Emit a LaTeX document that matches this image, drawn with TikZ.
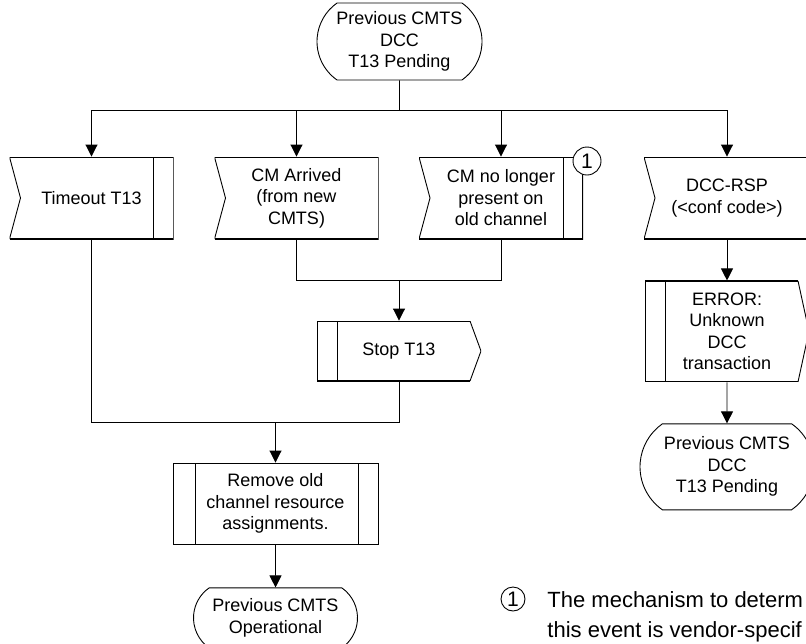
\documentclass[tikz,border=0pt]{standalone}
\usepackage{fontspec}
\setmainfont{Liberation Sans}
\usetikzlibrary{positioning, shapes.misc, arrows.meta, calc}

% process bars drawn inside a node's path picture
\newcommand{\sdlbarleft}{\draw ([xshift=20pt]path picture bounding box.north west) -- ([xshift=20pt]path picture bounding box.south west);}
\newcommand{\sdlbarright}{\draw ([xshift=-20pt]path picture bounding box.north east) -- ([xshift=-20pt]path picture bounding box.south east);}

\begin{document}
\begin{tikzpicture}[
    x=1pt, y=-1pt,
    line width=0.9pt,
    every node/.style={font=\fontsize{18}{21.5}\selectfont, line width=0.9pt},
    state/.style={rounded rectangle, rounded rectangle arc length=110, draw, fill=white, align=center, inner sep=0pt},
    inbox/.style={rectangle, fill=white, align=center, minimum width=164pt, minimum height=82pt, inner sep=0pt,
        path picture={
            \draw[line width=1.8pt] (path picture bounding box.north west) -- (path picture bounding box.north east)
                -- (path picture bounding box.south east) -- (path picture bounding box.south west);
            \draw (path picture bounding box.north west) -- ([xshift=11pt]path picture bounding box.west) -- (path picture bounding box.south west);
            #1}},
    inbox/.default={},
    outbox/.style={rectangle, fill=white, align=center, minimum width=164pt, inner sep=0pt,
        path picture={
            \draw[line width=1.8pt] ([xshift=-11pt]path picture bounding box.north east) -- (path picture bounding box.north west)
                -- (path picture bounding box.south west) -- ([xshift=-11pt]path picture bounding box.south east);
            \draw ([xshift=-11pt]path picture bounding box.north east) -- (path picture bounding box.east) -- ([xshift=-11pt]path picture bounding box.south east);
            \sdlbarleft}},
    task/.style={rectangle, draw, fill=white, align=center, minimum width=205pt, minimum height=81pt, inner sep=0pt,
        path picture={
            \draw ([xshift=22pt]path picture bounding box.north west) -- ([xshift=22pt]path picture bounding box.south west);
            \sdlbarright}},
    note/.style={circle, draw, fill=white, inner sep=0pt, font=\fontsize{21}{24}\selectfont},
    arr/.style={-{Triangle[length=12pt, width=12pt]}}
]
    \useasboundingbox (0,0) rectangle (806,643);
    \clip (0,0) rectangle (806,643);
    \fill[white] (0,0) rectangle (806,643);

    % start state and the four incoming events
    \node[state, minimum width=165pt, minimum height=77pt] (start) at (399.5,41.5) {Previous CMTS\\DCC\\T13 Pending};
    \node[inbox=\sdlbarright] (timeout) at (91.5,198) {Timeout T13};
    \node[inbox] (arrived) at (296.5,198) {CM Arrived\\(from new\\CMTS)};
    \node[inbox=\sdlbarright] (lost) at (501,198) {CM no longer\\present on\\old channel};
    \node[inbox, minimum width=166pt] (rsp) at (727,198) {DCC-RSP\\(<conf code>)};
    \node[note, minimum size=28pt] (mark) at (587,161) {1};

    % actions
    \node[outbox, minimum height=60pt] (stop) at (399,351) {Stop T13};
    \node[outbox, minimum height=101pt] (error) [below=41pt of rsp] {ERROR:\\Unknown\\DCC\\transaction};
    \node[state, minimum width=174pt, minimum height=86pt] (pending) [below=41pt of error] {Previous CMTS\\DCC\\T13 Pending};
    \node[task] (remove) at (275.5,503.5) {Remove old\\channel resource\\assignments.};
    \node[state, minimum width=164pt, minimum height=60pt] (oper) [below=43pt of remove] {Previous CMTS\\Operational};

    % footnote
    \node[note, minimum size=24pt] (fnmark) at (513,599) {1};
    \node[anchor=north west, align=left, inner sep=0pt, font=\fontsize{22}{30}\selectfont] (fntext) at (547,591) {The mechanism to determ\\this event is vendor-specif};

    \coordinate (bus) at ($(start.south)+(0,30)$);
    \draw (start) -- (bus);
    \foreach \n in {timeout, arrived, lost, rsp}
        \draw[arr] (bus) -| (\n.north);

    \coordinate (join1) at ($(lost.south)+(0,41)$);
    \draw (arrived.south) |- (join1) -- (lost.south);
    \draw[arr] (join1 -| stop.north) -- (stop.north);

    \coordinate (join2) at ($(stop.south)+(0,41)$);
    \draw (timeout.south) |- (join2) -- (stop.south);
    \draw[arr] (join2 -| remove.north) -- (remove.north);
    \draw[arr] (remove) -- (oper);

    \draw[arr] (rsp) -- (error);
    \draw[arr] (error) -- (pending);
\end{tikzpicture}
\end{document}
